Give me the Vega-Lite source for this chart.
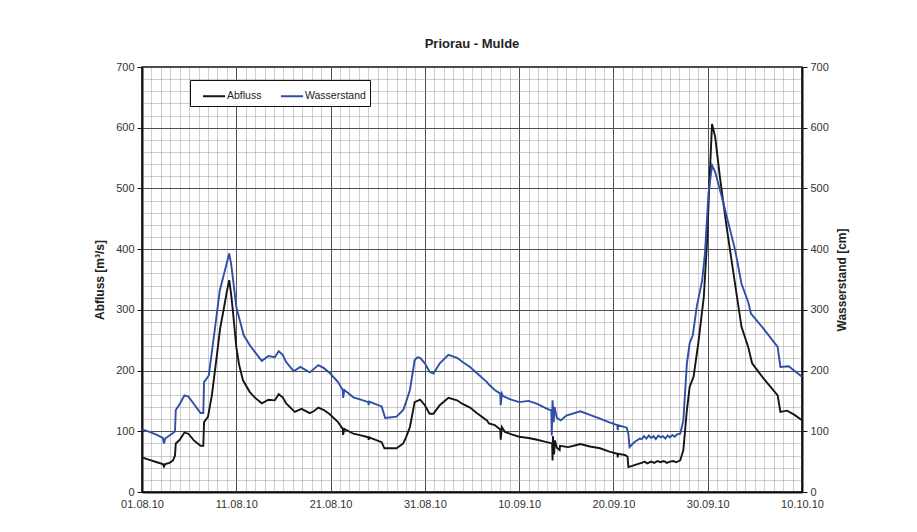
{
  "$schema": "https://vega.github.io/schema/vega-lite/v6.json",
  "width": 660,
  "height": 425,
  "autosize": {"type": "none"},
  "padding": {"left": 142, "top": 67, "right": 115, "bottom": 40},
  "background": "white",
  "title": {"text": "Priorau - Mulde", "font": "Liberation Sans", "fontSize": 13, "fontWeight": "bold", "color": "#222", "offset": 10, "anchor": "middle"},
  "config": {
    "font": "Liberation Sans",
    "view": {"stroke": "#111", "strokeWidth": 1.5}
  },
  "datasets": {
    "reihen": [
      {"zeit": "2010-08-01T00:00", "reihe": "Abfluss", "wert": 57},
      {"zeit": "2010-08-01T19:00", "reihe": "Abfluss", "wert": 53},
      {"zeit": "2010-08-02T14:00", "reihe": "Abfluss", "wert": 49},
      {"zeit": "2010-08-03T05:00", "reihe": "Abfluss", "wert": 46},
      {"zeit": "2010-08-03T08:00", "reihe": "Abfluss", "wert": 42},
      {"zeit": "2010-08-03T11:00", "reihe": "Abfluss", "wert": 46},
      {"zeit": "2010-08-03T22:00", "reihe": "Abfluss", "wert": 48},
      {"zeit": "2010-08-04T07:00", "reihe": "Abfluss", "wert": 52},
      {"zeit": "2010-08-04T12:00", "reihe": "Abfluss", "wert": 60},
      {"zeit": "2010-08-04T14:00", "reihe": "Abfluss", "wert": 80},
      {"zeit": "2010-08-05T00:00", "reihe": "Abfluss", "wert": 86},
      {"zeit": "2010-08-05T12:00", "reihe": "Abfluss", "wert": 98},
      {"zeit": "2010-08-05T22:00", "reihe": "Abfluss", "wert": 96},
      {"zeit": "2010-08-06T12:00", "reihe": "Abfluss", "wert": 85},
      {"zeit": "2010-08-07T05:00", "reihe": "Abfluss", "wert": 76},
      {"zeit": "2010-08-07T12:00", "reihe": "Abfluss", "wert": 76},
      {"zeit": "2010-08-07T14:00", "reihe": "Abfluss", "wert": 115},
      {"zeit": "2010-08-08T00:00", "reihe": "Abfluss", "wert": 124},
      {"zeit": "2010-08-08T10:00", "reihe": "Abfluss", "wert": 160},
      {"zeit": "2010-08-08T22:00", "reihe": "Abfluss", "wert": 222},
      {"zeit": "2010-08-09T07:00", "reihe": "Abfluss", "wert": 270},
      {"zeit": "2010-08-09T14:00", "reihe": "Abfluss", "wert": 294},
      {"zeit": "2010-08-10T00:00", "reihe": "Abfluss", "wert": 330},
      {"zeit": "2010-08-10T06:00", "reihe": "Abfluss", "wert": 349},
      {"zeit": "2010-08-10T11:00", "reihe": "Abfluss", "wert": 325},
      {"zeit": "2010-08-10T16:00", "reihe": "Abfluss", "wert": 294},
      {"zeit": "2010-08-11T00:00", "reihe": "Abfluss", "wert": 239},
      {"zeit": "2010-08-11T07:00", "reihe": "Abfluss", "wert": 210},
      {"zeit": "2010-08-11T17:00", "reihe": "Abfluss", "wert": 184},
      {"zeit": "2010-08-12T10:00", "reihe": "Abfluss", "wert": 165},
      {"zeit": "2010-08-13T00:00", "reihe": "Abfluss", "wert": 155},
      {"zeit": "2010-08-13T17:00", "reihe": "Abfluss", "wert": 146},
      {"zeit": "2010-08-14T10:00", "reihe": "Abfluss", "wert": 152},
      {"zeit": "2010-08-15T02:00", "reihe": "Abfluss", "wert": 151},
      {"zeit": "2010-08-15T12:00", "reihe": "Abfluss", "wert": 161},
      {"zeit": "2010-08-15T22:00", "reihe": "Abfluss", "wert": 156},
      {"zeit": "2010-08-16T07:00", "reihe": "Abfluss", "wert": 146},
      {"zeit": "2010-08-17T05:00", "reihe": "Abfluss", "wert": 132},
      {"zeit": "2010-08-17T22:00", "reihe": "Abfluss", "wert": 137},
      {"zeit": "2010-08-18T19:00", "reihe": "Abfluss", "wert": 130},
      {"zeit": "2010-08-19T05:00", "reihe": "Abfluss", "wert": 133},
      {"zeit": "2010-08-19T17:00", "reihe": "Abfluss", "wert": 139},
      {"zeit": "2010-08-20T07:00", "reihe": "Abfluss", "wert": 135},
      {"zeit": "2010-08-20T22:00", "reihe": "Abfluss", "wert": 128},
      {"zeit": "2010-08-21T19:00", "reihe": "Abfluss", "wert": 115},
      {"zeit": "2010-08-22T07:00", "reihe": "Abfluss", "wert": 104},
      {"zeit": "2010-08-22T08:00", "reihe": "Abfluss", "wert": 94},
      {"zeit": "2010-08-22T11:00", "reihe": "Abfluss", "wert": 104},
      {"zeit": "2010-08-23T10:00", "reihe": "Abfluss", "wert": 96},
      {"zeit": "2010-08-24T00:00", "reihe": "Abfluss", "wert": 94},
      {"zeit": "2010-08-24T19:00", "reihe": "Abfluss", "wert": 91},
      {"zeit": "2010-08-25T00:00", "reihe": "Abfluss", "wert": 90},
      {"zeit": "2010-08-25T01:00", "reihe": "Abfluss", "wert": 86},
      {"zeit": "2010-08-25T02:00", "reihe": "Abfluss", "wert": 90},
      {"zeit": "2010-08-26T10:00", "reihe": "Abfluss", "wert": 82},
      {"zeit": "2010-08-26T17:00", "reihe": "Abfluss", "wert": 72},
      {"zeit": "2010-08-28T00:00", "reihe": "Abfluss", "wert": 72},
      {"zeit": "2010-08-28T17:00", "reihe": "Abfluss", "wert": 80},
      {"zeit": "2010-08-29T00:00", "reihe": "Abfluss", "wert": 90},
      {"zeit": "2010-08-29T10:00", "reihe": "Abfluss", "wert": 107},
      {"zeit": "2010-08-29T22:00", "reihe": "Abfluss", "wert": 148},
      {"zeit": "2010-08-30T12:00", "reihe": "Abfluss", "wert": 152},
      {"zeit": "2010-08-31T00:00", "reihe": "Abfluss", "wert": 143},
      {"zeit": "2010-08-31T12:00", "reihe": "Abfluss", "wert": 129},
      {"zeit": "2010-08-31T22:00", "reihe": "Abfluss", "wert": 129},
      {"zeit": "2010-09-01T14:00", "reihe": "Abfluss", "wert": 143},
      {"zeit": "2010-09-02T12:00", "reihe": "Abfluss", "wert": 155},
      {"zeit": "2010-09-03T10:00", "reihe": "Abfluss", "wert": 151},
      {"zeit": "2010-09-04T00:00", "reihe": "Abfluss", "wert": 145},
      {"zeit": "2010-09-04T19:00", "reihe": "Abfluss", "wert": 139},
      {"zeit": "2010-09-05T12:00", "reihe": "Abfluss", "wert": 130},
      {"zeit": "2010-09-06T14:00", "reihe": "Abfluss", "wert": 118},
      {"zeit": "2010-09-06T19:00", "reihe": "Abfluss", "wert": 113},
      {"zeit": "2010-09-07T10:00", "reihe": "Abfluss", "wert": 110},
      {"zeit": "2010-09-08T00:00", "reihe": "Abfluss", "wert": 103},
      {"zeit": "2010-09-08T01:00", "reihe": "Abfluss", "wert": 86},
      {"zeit": "2010-09-08T04:00", "reihe": "Abfluss", "wert": 107},
      {"zeit": "2010-09-08T12:00", "reihe": "Abfluss", "wert": 99},
      {"zeit": "2010-09-09T05:00", "reihe": "Abfluss", "wert": 95},
      {"zeit": "2010-09-10T00:00", "reihe": "Abfluss", "wert": 91},
      {"zeit": "2010-09-11T00:00", "reihe": "Abfluss", "wert": 89},
      {"zeit": "2010-09-11T22:00", "reihe": "Abfluss", "wert": 86},
      {"zeit": "2010-09-12T17:00", "reihe": "Abfluss", "wert": 83},
      {"zeit": "2010-09-13T12:00", "reihe": "Abfluss", "wert": 80},
      {"zeit": "2010-09-13T13:00", "reihe": "Abfluss", "wert": 52},
      {"zeit": "2010-09-13T14:00", "reihe": "Abfluss", "wert": 92},
      {"zeit": "2010-09-13T17:00", "reihe": "Abfluss", "wert": 62},
      {"zeit": "2010-09-13T19:00", "reihe": "Abfluss", "wert": 85},
      {"zeit": "2010-09-14T00:00", "reihe": "Abfluss", "wert": 73},
      {"zeit": "2010-09-14T07:00", "reihe": "Abfluss", "wert": 69},
      {"zeit": "2010-09-14T08:00", "reihe": "Abfluss", "wert": 76},
      {"zeit": "2010-09-15T05:00", "reihe": "Abfluss", "wert": 74},
      {"zeit": "2010-09-16T00:00", "reihe": "Abfluss", "wert": 77},
      {"zeit": "2010-09-16T12:00", "reihe": "Abfluss", "wert": 79},
      {"zeit": "2010-09-17T12:00", "reihe": "Abfluss", "wert": 75},
      {"zeit": "2010-09-18T14:00", "reihe": "Abfluss", "wert": 72},
      {"zeit": "2010-09-19T12:00", "reihe": "Abfluss", "wert": 67},
      {"zeit": "2010-09-20T10:00", "reihe": "Abfluss", "wert": 63},
      {"zeit": "2010-09-20T11:00", "reihe": "Abfluss", "wert": 57},
      {"zeit": "2010-09-20T12:00", "reihe": "Abfluss", "wert": 63},
      {"zeit": "2010-09-21T05:00", "reihe": "Abfluss", "wert": 61},
      {"zeit": "2010-09-21T12:00", "reihe": "Abfluss", "wert": 58},
      {"zeit": "2010-09-21T14:00", "reihe": "Abfluss", "wert": 41},
      {"zeit": "2010-09-22T00:00", "reihe": "Abfluss", "wert": 43},
      {"zeit": "2010-09-22T19:00", "reihe": "Abfluss", "wert": 47},
      {"zeit": "2010-09-23T00:00", "reihe": "Abfluss", "wert": 48},
      {"zeit": "2010-09-23T08:00", "reihe": "Abfluss", "wert": 50},
      {"zeit": "2010-09-23T14:00", "reihe": "Abfluss", "wert": 47},
      {"zeit": "2010-09-24T00:00", "reihe": "Abfluss", "wert": 50},
      {"zeit": "2010-09-24T08:00", "reihe": "Abfluss", "wert": 48},
      {"zeit": "2010-09-24T16:00", "reihe": "Abfluss", "wert": 51},
      {"zeit": "2010-09-25T00:00", "reihe": "Abfluss", "wert": 49},
      {"zeit": "2010-09-25T08:00", "reihe": "Abfluss", "wert": 51},
      {"zeit": "2010-09-25T16:00", "reihe": "Abfluss", "wert": 48},
      {"zeit": "2010-09-26T00:00", "reihe": "Abfluss", "wert": 50},
      {"zeit": "2010-09-26T08:00", "reihe": "Abfluss", "wert": 51},
      {"zeit": "2010-09-26T16:00", "reihe": "Abfluss", "wert": 49},
      {"zeit": "2010-09-27T02:00", "reihe": "Abfluss", "wert": 52},
      {"zeit": "2010-09-27T10:00", "reihe": "Abfluss", "wert": 69},
      {"zeit": "2010-09-27T19:00", "reihe": "Abfluss", "wert": 135},
      {"zeit": "2010-09-28T02:00", "reihe": "Abfluss", "wert": 173},
      {"zeit": "2010-09-28T12:00", "reihe": "Abfluss", "wert": 190},
      {"zeit": "2010-09-29T00:00", "reihe": "Abfluss", "wert": 245},
      {"zeit": "2010-09-29T14:00", "reihe": "Abfluss", "wert": 321},
      {"zeit": "2010-09-29T22:00", "reihe": "Abfluss", "wert": 409},
      {"zeit": "2010-09-30T05:00", "reihe": "Abfluss", "wert": 519},
      {"zeit": "2010-09-30T11:00", "reihe": "Abfluss", "wert": 606},
      {"zeit": "2010-09-30T19:00", "reihe": "Abfluss", "wert": 585},
      {"zeit": "2010-10-01T07:00", "reihe": "Abfluss", "wert": 519},
      {"zeit": "2010-10-02T00:00", "reihe": "Abfluss", "wert": 437},
      {"zeit": "2010-10-02T19:00", "reihe": "Abfluss", "wert": 354},
      {"zeit": "2010-10-03T14:00", "reihe": "Abfluss", "wert": 272},
      {"zeit": "2010-10-04T07:00", "reihe": "Abfluss", "wert": 239},
      {"zeit": "2010-10-04T17:00", "reihe": "Abfluss", "wert": 212},
      {"zeit": "2010-10-05T07:00", "reihe": "Abfluss", "wert": 200},
      {"zeit": "2010-10-05T22:00", "reihe": "Abfluss", "wert": 187},
      {"zeit": "2010-10-07T10:00", "reihe": "Abfluss", "wert": 159},
      {"zeit": "2010-10-07T17:00", "reihe": "Abfluss", "wert": 132},
      {"zeit": "2010-10-08T10:00", "reihe": "Abfluss", "wert": 134},
      {"zeit": "2010-10-09T05:00", "reihe": "Abfluss", "wert": 127},
      {"zeit": "2010-10-10T00:00", "reihe": "Abfluss", "wert": 118},

      {"zeit": "2010-08-01T00:00", "reihe": "Wasserstand", "wert": 103},
      {"zeit": "2010-08-01T19:00", "reihe": "Wasserstand", "wert": 99},
      {"zeit": "2010-08-02T14:00", "reihe": "Wasserstand", "wert": 94},
      {"zeit": "2010-08-03T05:00", "reihe": "Wasserstand", "wert": 89},
      {"zeit": "2010-08-03T08:00", "reihe": "Wasserstand", "wert": 80},
      {"zeit": "2010-08-03T11:00", "reihe": "Wasserstand", "wert": 88},
      {"zeit": "2010-08-03T22:00", "reihe": "Wasserstand", "wert": 93},
      {"zeit": "2010-08-04T07:00", "reihe": "Wasserstand", "wert": 97},
      {"zeit": "2010-08-04T12:00", "reihe": "Wasserstand", "wert": 100},
      {"zeit": "2010-08-04T14:00", "reihe": "Wasserstand", "wert": 135},
      {"zeit": "2010-08-05T00:00", "reihe": "Wasserstand", "wert": 145},
      {"zeit": "2010-08-05T12:00", "reihe": "Wasserstand", "wert": 159},
      {"zeit": "2010-08-05T22:00", "reihe": "Wasserstand", "wert": 157},
      {"zeit": "2010-08-06T12:00", "reihe": "Wasserstand", "wert": 145},
      {"zeit": "2010-08-07T05:00", "reihe": "Wasserstand", "wert": 130},
      {"zeit": "2010-08-07T12:00", "reihe": "Wasserstand", "wert": 130},
      {"zeit": "2010-08-07T14:00", "reihe": "Wasserstand", "wert": 181},
      {"zeit": "2010-08-08T02:00", "reihe": "Wasserstand", "wert": 192},
      {"zeit": "2010-08-08T17:00", "reihe": "Wasserstand", "wert": 266},
      {"zeit": "2010-08-09T06:00", "reihe": "Wasserstand", "wert": 332},
      {"zeit": "2010-08-09T19:00", "reihe": "Wasserstand", "wert": 365},
      {"zeit": "2010-08-10T06:00", "reihe": "Wasserstand", "wert": 393},
      {"zeit": "2010-08-10T11:00", "reihe": "Wasserstand", "wert": 375},
      {"zeit": "2010-08-10T16:00", "reihe": "Wasserstand", "wert": 349},
      {"zeit": "2010-08-11T00:00", "reihe": "Wasserstand", "wert": 305},
      {"zeit": "2010-08-11T10:00", "reihe": "Wasserstand", "wert": 280},
      {"zeit": "2010-08-11T19:00", "reihe": "Wasserstand", "wert": 258},
      {"zeit": "2010-08-12T10:00", "reihe": "Wasserstand", "wert": 242},
      {"zeit": "2010-08-13T00:00", "reihe": "Wasserstand", "wert": 230},
      {"zeit": "2010-08-13T17:00", "reihe": "Wasserstand", "wert": 216},
      {"zeit": "2010-08-14T10:00", "reihe": "Wasserstand", "wert": 224},
      {"zeit": "2010-08-15T02:00", "reihe": "Wasserstand", "wert": 222},
      {"zeit": "2010-08-15T12:00", "reihe": "Wasserstand", "wert": 232},
      {"zeit": "2010-08-15T22:00", "reihe": "Wasserstand", "wert": 226},
      {"zeit": "2010-08-16T07:00", "reihe": "Wasserstand", "wert": 214},
      {"zeit": "2010-08-17T02:00", "reihe": "Wasserstand", "wert": 199},
      {"zeit": "2010-08-17T19:00", "reihe": "Wasserstand", "wert": 206},
      {"zeit": "2010-08-18T19:00", "reihe": "Wasserstand", "wert": 197},
      {"zeit": "2010-08-19T17:00", "reihe": "Wasserstand", "wert": 209},
      {"zeit": "2010-08-20T07:00", "reihe": "Wasserstand", "wert": 204},
      {"zeit": "2010-08-20T22:00", "reihe": "Wasserstand", "wert": 196},
      {"zeit": "2010-08-21T19:00", "reihe": "Wasserstand", "wert": 181},
      {"zeit": "2010-08-22T07:00", "reihe": "Wasserstand", "wert": 168},
      {"zeit": "2010-08-22T08:00", "reihe": "Wasserstand", "wert": 155},
      {"zeit": "2010-08-22T11:00", "reihe": "Wasserstand", "wert": 168},
      {"zeit": "2010-08-23T10:00", "reihe": "Wasserstand", "wert": 156},
      {"zeit": "2010-08-24T05:00", "reihe": "Wasserstand", "wert": 152},
      {"zeit": "2010-08-25T00:00", "reihe": "Wasserstand", "wert": 148},
      {"zeit": "2010-08-25T01:00", "reihe": "Wasserstand", "wert": 143},
      {"zeit": "2010-08-25T02:00", "reihe": "Wasserstand", "wert": 149},
      {"zeit": "2010-08-26T10:00", "reihe": "Wasserstand", "wert": 141},
      {"zeit": "2010-08-26T19:00", "reihe": "Wasserstand", "wert": 122},
      {"zeit": "2010-08-28T00:00", "reihe": "Wasserstand", "wert": 124},
      {"zeit": "2010-08-28T17:00", "reihe": "Wasserstand", "wert": 135},
      {"zeit": "2010-08-29T00:00", "reihe": "Wasserstand", "wert": 148},
      {"zeit": "2010-08-29T10:00", "reihe": "Wasserstand", "wert": 168},
      {"zeit": "2010-08-29T22:00", "reihe": "Wasserstand", "wert": 217},
      {"zeit": "2010-08-30T05:00", "reihe": "Wasserstand", "wert": 222},
      {"zeit": "2010-08-30T12:00", "reihe": "Wasserstand", "wert": 221},
      {"zeit": "2010-08-31T00:00", "reihe": "Wasserstand", "wert": 212},
      {"zeit": "2010-08-31T12:00", "reihe": "Wasserstand", "wert": 198},
      {"zeit": "2010-08-31T22:00", "reihe": "Wasserstand", "wert": 195},
      {"zeit": "2010-09-01T14:00", "reihe": "Wasserstand", "wert": 212},
      {"zeit": "2010-09-02T12:00", "reihe": "Wasserstand", "wert": 226},
      {"zeit": "2010-09-03T10:00", "reihe": "Wasserstand", "wert": 221},
      {"zeit": "2010-09-04T00:00", "reihe": "Wasserstand", "wert": 214},
      {"zeit": "2010-09-04T19:00", "reihe": "Wasserstand", "wert": 206},
      {"zeit": "2010-09-05T12:00", "reihe": "Wasserstand", "wert": 196},
      {"zeit": "2010-09-06T14:00", "reihe": "Wasserstand", "wert": 181},
      {"zeit": "2010-09-06T19:00", "reihe": "Wasserstand", "wert": 177},
      {"zeit": "2010-09-07T10:00", "reihe": "Wasserstand", "wert": 168},
      {"zeit": "2010-09-08T00:00", "reihe": "Wasserstand", "wert": 162},
      {"zeit": "2010-09-08T01:00", "reihe": "Wasserstand", "wert": 143},
      {"zeit": "2010-09-08T04:00", "reihe": "Wasserstand", "wert": 162},
      {"zeit": "2010-09-08T07:00", "reihe": "Wasserstand", "wert": 158},
      {"zeit": "2010-09-09T00:00", "reihe": "Wasserstand", "wert": 153},
      {"zeit": "2010-09-10T00:00", "reihe": "Wasserstand", "wert": 148},
      {"zeit": "2010-09-11T00:00", "reihe": "Wasserstand", "wert": 150},
      {"zeit": "2010-09-11T22:00", "reihe": "Wasserstand", "wert": 145},
      {"zeit": "2010-09-12T17:00", "reihe": "Wasserstand", "wert": 139},
      {"zeit": "2010-09-13T10:00", "reihe": "Wasserstand", "wert": 134},
      {"zeit": "2010-09-13T11:00", "reihe": "Wasserstand", "wert": 93},
      {"zeit": "2010-09-13T13:00", "reihe": "Wasserstand", "wert": 151},
      {"zeit": "2010-09-13T16:00", "reihe": "Wasserstand", "wert": 115},
      {"zeit": "2010-09-13T18:00", "reihe": "Wasserstand", "wert": 140},
      {"zeit": "2010-09-14T00:00", "reihe": "Wasserstand", "wert": 122},
      {"zeit": "2010-09-14T10:00", "reihe": "Wasserstand", "wert": 118},
      {"zeit": "2010-09-15T00:00", "reihe": "Wasserstand", "wert": 126},
      {"zeit": "2010-09-16T12:00", "reihe": "Wasserstand", "wert": 133},
      {"zeit": "2010-09-17T12:00", "reihe": "Wasserstand", "wert": 127},
      {"zeit": "2010-09-18T14:00", "reihe": "Wasserstand", "wert": 121},
      {"zeit": "2010-09-19T12:00", "reihe": "Wasserstand", "wert": 115},
      {"zeit": "2010-09-20T10:00", "reihe": "Wasserstand", "wert": 110},
      {"zeit": "2010-09-20T11:00", "reihe": "Wasserstand", "wert": 102},
      {"zeit": "2010-09-20T12:00", "reihe": "Wasserstand", "wert": 110},
      {"zeit": "2010-09-21T10:00", "reihe": "Wasserstand", "wert": 106},
      {"zeit": "2010-09-21T14:00", "reihe": "Wasserstand", "wert": 96},
      {"zeit": "2010-09-21T17:00", "reihe": "Wasserstand", "wert": 74},
      {"zeit": "2010-09-22T05:00", "reihe": "Wasserstand", "wert": 82},
      {"zeit": "2010-09-22T19:00", "reihe": "Wasserstand", "wert": 88},
      {"zeit": "2010-09-23T00:00", "reihe": "Wasserstand", "wert": 87},
      {"zeit": "2010-09-23T06:00", "reihe": "Wasserstand", "wert": 92},
      {"zeit": "2010-09-23T12:00", "reihe": "Wasserstand", "wert": 88},
      {"zeit": "2010-09-23T18:00", "reihe": "Wasserstand", "wert": 93},
      {"zeit": "2010-09-24T00:00", "reihe": "Wasserstand", "wert": 89},
      {"zeit": "2010-09-24T06:00", "reihe": "Wasserstand", "wert": 92},
      {"zeit": "2010-09-24T12:00", "reihe": "Wasserstand", "wert": 87},
      {"zeit": "2010-09-24T18:00", "reihe": "Wasserstand", "wert": 93},
      {"zeit": "2010-09-25T00:00", "reihe": "Wasserstand", "wert": 90},
      {"zeit": "2010-09-25T06:00", "reihe": "Wasserstand", "wert": 92},
      {"zeit": "2010-09-25T12:00", "reihe": "Wasserstand", "wert": 88},
      {"zeit": "2010-09-25T18:00", "reihe": "Wasserstand", "wert": 93},
      {"zeit": "2010-09-26T00:00", "reihe": "Wasserstand", "wert": 90},
      {"zeit": "2010-09-26T06:00", "reihe": "Wasserstand", "wert": 94},
      {"zeit": "2010-09-26T12:00", "reihe": "Wasserstand", "wert": 91},
      {"zeit": "2010-09-26T18:00", "reihe": "Wasserstand", "wert": 95},
      {"zeit": "2010-09-27T02:00", "reihe": "Wasserstand", "wert": 96},
      {"zeit": "2010-09-27T10:00", "reihe": "Wasserstand", "wert": 118},
      {"zeit": "2010-09-27T19:00", "reihe": "Wasserstand", "wert": 212},
      {"zeit": "2010-09-28T02:00", "reihe": "Wasserstand", "wert": 245},
      {"zeit": "2010-09-28T10:00", "reihe": "Wasserstand", "wert": 258},
      {"zeit": "2010-09-28T20:00", "reihe": "Wasserstand", "wert": 305},
      {"zeit": "2010-09-29T10:00", "reihe": "Wasserstand", "wert": 349},
      {"zeit": "2010-09-29T17:00", "reihe": "Wasserstand", "wert": 393},
      {"zeit": "2010-09-30T02:00", "reihe": "Wasserstand", "wert": 492},
      {"zeit": "2010-09-30T11:00", "reihe": "Wasserstand", "wert": 538},
      {"zeit": "2010-09-30T19:00", "reihe": "Wasserstand", "wert": 527},
      {"zeit": "2010-10-01T12:00", "reihe": "Wasserstand", "wert": 486},
      {"zeit": "2010-10-02T05:00", "reihe": "Wasserstand", "wert": 442},
      {"zeit": "2010-10-02T22:00", "reihe": "Wasserstand", "wert": 398},
      {"zeit": "2010-10-03T14:00", "reihe": "Wasserstand", "wert": 343},
      {"zeit": "2010-10-04T07:00", "reihe": "Wasserstand", "wert": 313},
      {"zeit": "2010-10-04T14:00", "reihe": "Wasserstand", "wert": 294},
      {"zeit": "2010-10-05T22:00", "reihe": "Wasserstand", "wert": 269},
      {"zeit": "2010-10-07T10:00", "reihe": "Wasserstand", "wert": 239},
      {"zeit": "2010-10-07T17:00", "reihe": "Wasserstand", "wert": 206},
      {"zeit": "2010-10-08T14:00", "reihe": "Wasserstand", "wert": 207},
      {"zeit": "2010-10-10T00:00", "reihe": "Wasserstand", "wert": 190}
    ]
  },
  "data": {"name": "reihen"},
  "encoding": {
    "x": {
      "field": "zeit",
      "type": "temporal",
      "scale": {"domain": [{"year": 2010, "month": 8, "date": 1}, {"year": 2010, "month": 10, "date": 10}], "nice": false},
      "axis": {
        "title": null,
        "tickCount": {"interval": "day", "step": 1},
        "grid": true,
        "gridColor": {"condition": {"test": "round((datum.value - datetime(2010,7,1)) / 86400000) % 10 === 0", "value": "#505050"}, "value": "#9c9c9c"},
        "gridDash": {"condition": {"test": "round((datum.value - datetime(2010,7,1)) / 86400000) % 10 === 0", "value": []}, "value": [1, 1]},
        "gridWidth": 1,
        "ticks": false,
        "labelExpr": "round((datum.value - datetime(2010,7,1)) / 86400000) % 10 === 0 ? timeFormat(datum.value, '%d.%m.%y') : ''",
        "labelFlush": false,
        "labelOverlap": false,
        "labelBound": false,
        "labelFont": "Liberation Sans",
        "labelFontSize": 11,
        "labelColor": "#333",
        "labelPadding": 6,
        "domainColor": "#111",
        "domainWidth": 2
      }
    },
    "color": {
      "field": "reihe",
      "type": "nominal",
      "scale": {"domain": ["Abfluss", "Wasserstand"], "range": ["#151515", "#2f4fa6"]},
      "legend": {
        "orient": "none",
        "legendX": 48,
        "legendY": 13,
        "direction": "horizontal",
        "title": " ",
        "titleOrient": "left",
        "titlePadding": 8,
        "titleFontSize": 10,
        "padding": 4,
        "strokeColor": "#111",
        "fillColor": "white",
        "cornerRadius": 0,
        "symbolType": "stroke",
        "symbolStrokeWidth": 2,
        "symbolSize": 484,
        "labelFont": "Liberation Sans",
        "labelFontSize": 10.5,
        "labelColor": "#222",
        "labelOffset": 1,
        "columnPadding": 15
      }
    }
  },
  "layer": [
    {
      "transform": [{"filter": "datum.reihe === 'Abfluss'"}],
      "mark": {"type": "line", "strokeWidth": 1.9},
      "encoding": {
        "y": {
          "field": "wert",
          "type": "quantitative",
          "scale": {"domain": [0, 700], "nice": false},
          "axis": {
            "orient": "left",
            "title": "Abfluss [m³/s]",
            "titleFont": "Liberation Sans",
            "titleFontSize": 12,
            "titleFontWeight": "bold",
            "titleColor": "#222",
            "titlePadding": 9,
            "values": [0, 20, 40, 60, 80, 100, 120, 140, 160, 180, 200, 220, 240, 260, 280, 300, 320, 340, 360, 380, 400, 420, 440, 460, 480, 500, 520, 540, 560, 580, 600, 620, 640, 660, 680, 700],
            "grid": true,
            "gridColor": {"condition": {"test": "datum.value % 100 === 0", "value": "#505050"}, "value": "#9c9c9c"},
            "gridDash": {"condition": {"test": "datum.value % 100 === 0", "value": []}, "value": [1, 1]},
            "gridWidth": 1,
            "tickOpacity": {"condition": {"test": "datum.value % 100 === 0", "value": 1}, "value": 0},
            "tickSize": 5,
            "tickColor": "#111",
            "labelExpr": "datum.value % 100 === 0 ? datum.label : ''",
            "labelOverlap": false,
            "labelFont": "Liberation Sans",
            "labelFontSize": 11,
            "labelColor": "#333",
            "labelPadding": 3,
            "domainColor": "#111",
            "domainWidth": 2
          }
        }
      }
    },
    {
      "transform": [{"filter": "datum.reihe === 'Wasserstand'"}],
      "mark": {"type": "line", "strokeWidth": 1.9},
      "encoding": {
        "y": {
          "field": "wert",
          "type": "quantitative",
          "scale": {"domain": [0, 700], "nice": false},
          "axis": {
            "orient": "right",
            "title": "Wasserstand [cm]",
            "titleAngle": 270,
            "titleBaseline": "top",
            "titleFont": "Liberation Sans",
            "titleFontSize": 12,
            "titleFontWeight": "bold",
            "titleColor": "#222",
            "titlePadding": 8,
            "values": [0, 100, 200, 300, 400, 500, 600, 700],
            "grid": false,
            "tickSize": 5,
            "tickColor": "#111",
            "labelOverlap": false,
            "labelFont": "Liberation Sans",
            "labelFontSize": 11,
            "labelColor": "#333",
            "labelPadding": 3,
            "domainColor": "#111",
            "domainWidth": 2
          }
        }
      }
    }
  ],
  "resolve": {"scale": {"y": "independent"}}
}
